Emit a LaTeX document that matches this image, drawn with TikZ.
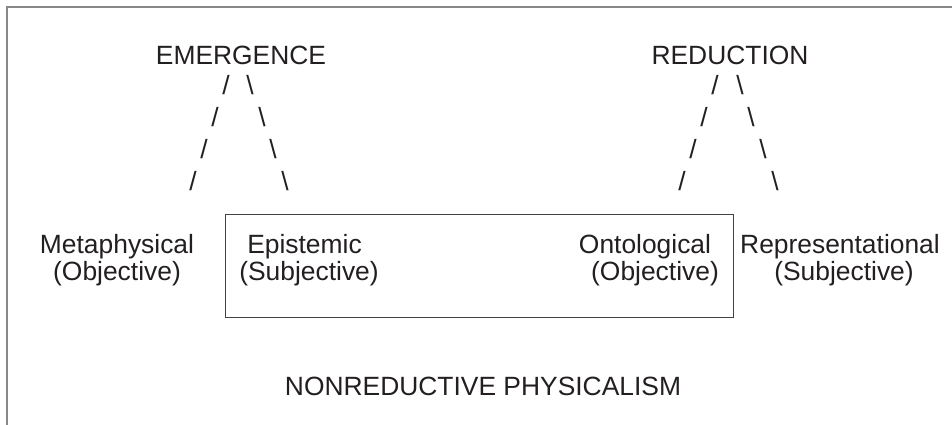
\documentclass[tikz,border=0pt]{standalone}
\usepackage{fontspec}
\setmainfont{Liberation Sans}
\definecolor{ink}{HTML}{231F20}
\definecolor{frame}{HTML}{888888}
\begin{document}
\begin{tikzpicture}[x=1pt,y=-1pt,
  lbl/.style={anchor=base,inner sep=0pt,text=ink,font=\fontsize{26.4}{27}\selectfont},
  sl/.style={anchor=base,inner sep=0pt,text=ink,font=\fontsize{26.4}{27}\selectfont}]
\useasboundingbox (0,0) rectangle (952,425);
% outer frame (open at right and bottom)
\draw[frame,line width=2pt] (7,430) -- (7,7) -- (960,7);
% inner box
\node[draw=ink!85,line width=1.1pt,anchor=north west,inner sep=0pt,
      minimum width=508pt,minimum height=103pt] (box) at (225,214) {};
% headings
\node[lbl] (emer) at (241,65) {EMERGENCE};
\node[lbl] (red) at (730,65) {REDUCTION};
% emergence slashes
\node[sl] (el1) at (226,95) {/};  \node[sl] (er1) at (250,95) {\textbackslash};
\node[sl] (el2) at (215,127) {/}; \node[sl] (er2) at (262,127) {\textbackslash};
\node[sl] (el3) at (204,158) {/}; \node[sl] (er3) at (273,158) {\textbackslash};
\node[sl] (el4) at (193,190) {/}; \node[sl] (er4) at (285,190) {\textbackslash};
% reduction slashes
\node[sl] (rl1) at (715,95) {/};  \node[sl] (rr1) at (740,95) {\textbackslash};
\node[sl] (rl2) at (704,127) {/}; \node[sl] (rr2) at (751,127) {\textbackslash};
\node[sl] (rl3) at (693,158) {/}; \node[sl] (rr3) at (763,158) {\textbackslash};
\node[sl] (rl4) at (682,190) {/}; \node[sl] (rr4) at (775,190) {\textbackslash};
% labels
\node[lbl] (meta) at (117,253) {Metaphysical};
\node[lbl] (metb) at (117,280) {(Objective)};
\node[lbl] (epia) at (304.5,253) {Epistemic};
\node[lbl] (epib) at (309,280) {(Subjective)};
\node[lbl] (onta) at (645,253) {Ontological};
\node[lbl] (ontb) at (655,280) {(Objective)};
\node[lbl] (repa) at (840,253) {Representational};
\node[lbl] (repb) at (844,280) {(Subjective)};
\node[lbl] (nrp) at (483,395) {NONREDUCTIVE PHYSICALISM};
\end{tikzpicture}
\end{document}
